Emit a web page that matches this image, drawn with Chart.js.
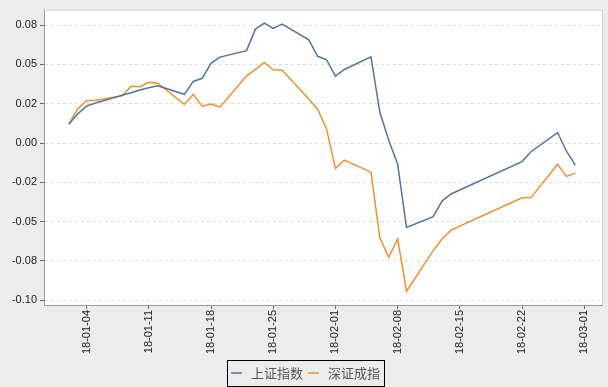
<!DOCTYPE html>
<html>
<head>
<meta charset="utf-8">
<script src="https://cdn.jsdelivr.net/npm/chart.js@4.4.1/dist/chart.umd.min.js"></script>
<style>
  html, body { margin: 0; padding: 0; background: #ececec; }
  #wrap { width: 608px; height: 387px; position: relative; }
</style>
</head>
<body>
<div id="wrap"><canvas id="c" width="608" height="387"></canvas></div>
<script>
// ---- data ----
const dates = [
  '2018-01-02','2018-01-03','2018-01-04','2018-01-05',
  '2018-01-08','2018-01-09','2018-01-10','2018-01-11','2018-01-12',
  '2018-01-15','2018-01-16','2018-01-17','2018-01-18','2018-01-19',
  '2018-01-22','2018-01-23','2018-01-24','2018-01-25','2018-01-26',
  '2018-01-29','2018-01-30','2018-01-31','2018-02-01','2018-02-02',
  '2018-02-05','2018-02-06','2018-02-07','2018-02-08','2018-02-09',
  '2018-02-12','2018-02-13','2018-02-14',
  '2018-02-22','2018-02-23',
  '2018-02-26','2018-02-27','2018-02-28'
];
const shanghai = [
  0.0120, 0.0186, 0.0236, 0.0255,
  0.0304, 0.0320, 0.0338, 0.0352, 0.0365,
  0.0310, 0.0392, 0.0412, 0.0507, 0.0547,
  0.0588, 0.0725, 0.0763, 0.0730, 0.0757,
  0.0657, 0.0552, 0.0530, 0.0426, 0.0468,
  0.0549, 0.0196, 0.0018, -0.0135, -0.0537,
  -0.0468, -0.0369, -0.0324,
  -0.0118, -0.0055,
  0.0067, -0.0052, -0.0140
];
const shenzhen = [
  0.0120, 0.0218, 0.0270, 0.0272,
  0.0300, 0.0362, 0.0358, 0.0386, 0.0381,
  0.0245, 0.0310, 0.0235, 0.0249, 0.0228,
  0.0428, 0.0469, 0.0513, 0.0466, 0.0463,
  0.0280, 0.0215, 0.0090, -0.0162, -0.0108,
  -0.0185, -0.0604, -0.0726, -0.0610, -0.0942,
  -0.0684, -0.0610, -0.0554,
  -0.0348, -0.0347,
  -0.0135, -0.0212, -0.0191
];
const seriesNames = ['上证指数', '深证成指'];
const xTickLabels = ['18-01-04','18-01-11','18-01-18','18-01-25','18-02-01','18-02-08','18-02-15','18-02-22','18-03-01'];
const yTickValues = [0.075, 0.05, 0.025, 0, -0.025, -0.05, -0.075, -0.1];
const yTickLabels = ['0.08', '0.05', '0.02', '0.00', '-0.02', '-0.05', '-0.08', '-0.10'];

// ---- helpers ----
function dayNum(iso) {
  const p = iso.split('-').map(Number);
  return (Date.UTC(p[0], p[1] - 1, p[2]) - Date.UTC(2018, 0, 1)) / 86400000 + 1;
}
const xTickDays = xTickLabels.map(l => dayNum('20' + l));
const toPoints = vals => vals.map((v, i) => ({ x: dayNum(dates[i]), y: v }));

const COLORS = ['#4f75a0', '#f28e2b'];

const framePlugin = {
  id: 'frame',
  beforeDraw(chart) {
    const { ctx, chartArea: a } = chart;
    ctx.save();
    ctx.fillStyle = '#ececec';
    ctx.fillRect(0, 0, chart.width, chart.height);
    ctx.fillStyle = '#ffffff';
    ctx.fillRect(a.left, a.top, a.right - a.left, a.bottom - a.top);
    ctx.restore();
  },
  afterDraw(chart) {
    const { ctx, chartArea: a } = chart;
    ctx.save();
    ctx.strokeStyle = '#cfcfcf';
    ctx.lineWidth = 1;
    ctx.beginPath();
    ctx.moveTo(a.left, a.top + 0.5);
    ctx.lineTo(a.right + 0.5, a.top + 0.5);
    ctx.lineTo(a.right + 0.5, a.bottom);
    ctx.stroke();

    // legend
    ctx.font = '13px "Noto Sans CJK SC", sans-serif';
    ctx.textBaseline = 'middle';
    const lineLen = 11, gap1 = 9, gap2 = 5, pad = 4;
    const w1 = ctx.measureText(seriesNames[0]).width;
    const w2 = ctx.measureText(seriesNames[1]).width;
    const total = pad + lineLen + gap1 + w1 + gap2 + lineLen + gap1 + w2 + pad;
    const left = Math.round(chart.width / 2 + 2 - total / 2);
    const top = 360, h = 26, cy = top + h / 2;
    ctx.strokeStyle = '#000';
    ctx.lineWidth = 1;
    ctx.strokeRect(left + 0.5, top + 0.5, total, h);
    let x = left + pad;
    [w1, w2].forEach((w, i) => {
      ctx.strokeStyle = COLORS[i];
      ctx.lineWidth = 1.5;
      ctx.beginPath();
      ctx.moveTo(x, cy);
      ctx.lineTo(x + lineLen, cy);
      ctx.stroke();
      x += lineLen + gap1;
      ctx.fillStyle = '#555';
      ctx.fillText(seriesNames[i], x, cy);
      x += w + gap2;
    });
    ctx.restore();
  }
};

new Chart(document.getElementById('c'), {
  type: 'line',
  data: {
    datasets: [
      { label: seriesNames[0], data: toPoints(shanghai), borderColor: COLORS[0], borderWidth: 1.5, pointRadius: 0, tension: 0, fill: false },
      { label: seriesNames[1], data: toPoints(shenzhen), borderColor: COLORS[1], borderWidth: 1.5, pointRadius: 0, tension: 0, fill: false }
    ]
  },
  options: {
    responsive: false,
    animation: false,
    devicePixelRatio: 1,
    layout: { padding: { top: 7, right: 6, left: 0, bottom: 32 } },
    plugins: { legend: { display: false }, tooltip: { enabled: false } },
    scales: {
      x: {
        type: 'linear',
        min: -0.8,
        max: 62.0,
        afterBuildTicks: s => { s.ticks = xTickDays.map(v => ({ value: v })); },
        afterFit: s => { s.height = 50; },
        grid: { drawOnChartArea: false, drawTicks: true, tickLength: 4, tickColor: '#666', tickWidth: 1 },
        border: { display: true, color: '#999', width: 1 },
        ticks: {
          autoSkip: false,
          maxRotation: 90,
          minRotation: 90,
          padding: 1,
          color: '#222',
          font: { family: '"Liberation Sans", Arial, sans-serif', size: 11 },
          callback: v => { const i = xTickDays.indexOf(v); return i >= 0 ? xTickLabels[i] : ''; }
        }
      },
      y: {
        type: 'linear',
        min: -0.103,
        max: 0.0849,
        afterBuildTicks: s => { s.ticks = yTickValues.map(v => ({ value: v })); },
        afterFit: s => { s.width = 44; },
        grid: { color: '#dddddd', lineWidth: 1, drawTicks: true, tickLength: 4, tickColor: '#666', tickBorderDash: [] },
        border: { display: true, color: '#999', width: 1, dash: [3, 3] },
        ticks: {
          padding: 3,
          color: '#222',
          font: { family: '"Liberation Sans", Arial, sans-serif', size: 11 },
          callback: v => { const i = yTickValues.findIndex(t => Math.abs(t - v) < 1e-9); return i >= 0 ? yTickLabels[i] : ''; }
        }
      }
    }
  },
  plugins: [framePlugin]
});
</script>
</body>
</html>
